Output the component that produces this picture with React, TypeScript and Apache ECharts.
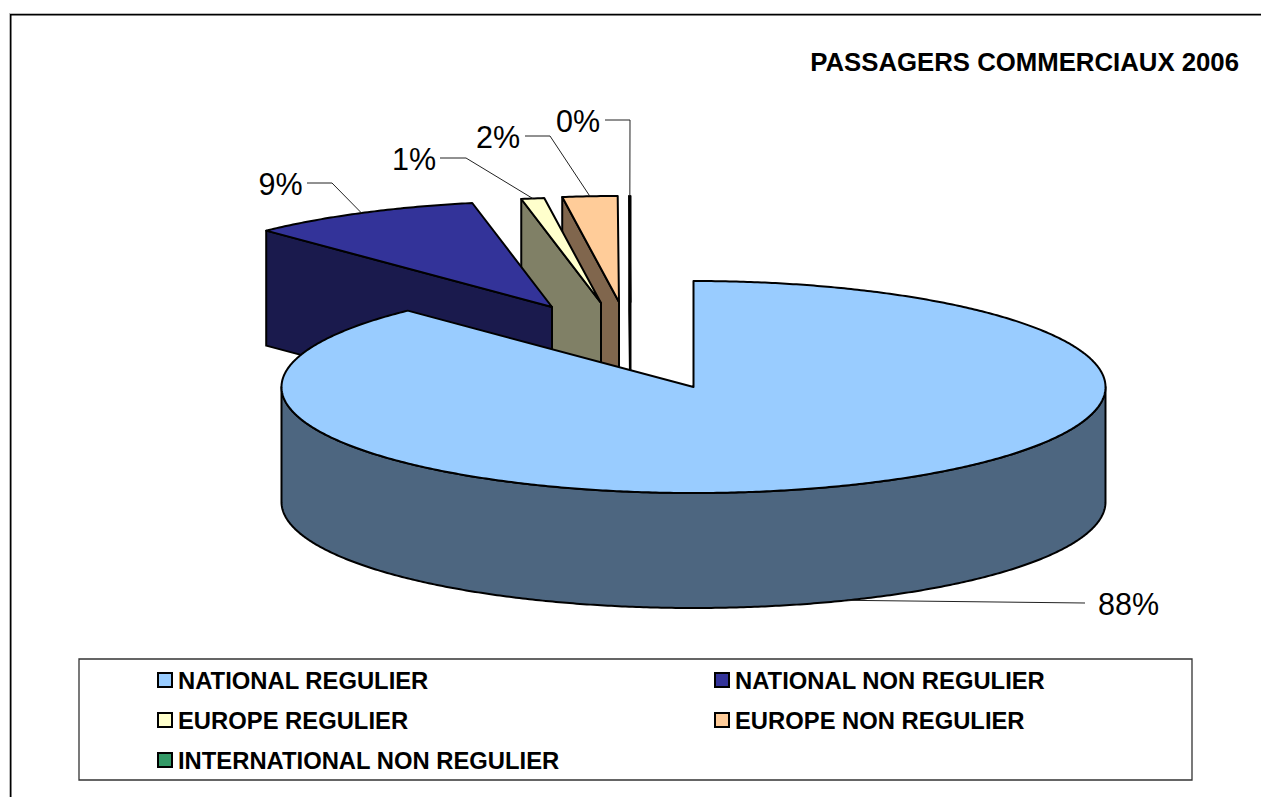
import React, { useEffect, useRef } from "react";
import * as echarts from "echarts";

const titleText = "PASSAGERS COMMERCIAUX 2006";
const categories = [
  "NATIONAL REGULIER",
  "NATIONAL NON REGULIER",
  "EUROPE REGULIER",
  "EUROPE NON REGULIER",
  "INTERNATIONAL NON REGULIER",
];
const sharePercent = [87.8, 9.1, 0.9, 2.15, 0.05];
const topColors = ["#99CCFF", "#333399", "#FFFFCC", "#FFCC99", "#339966"];
const sideColors = ["#4D6680", "#1A1A4D", "#808066", "#80664D", "#1A4D33"];

// layout of the exploded pie
const CX = 693.5, CY = 387, RX = 412, RY = 106, DEPTH = 115;
const explodeDX = [0, -141.5, -92.5, -74.5, -63];
const explodeDY = [0, -80, -84, -85, -85];
const labelX = [1128.5, 280.5, 414, 498, 578];
const labelY = [604, 184, 159, 137, 121];
const leaderY = [603, 183, 158, 136, 120];
const elbowX = [1085, 332, 466, 550, 630];
const elbowStartX = [1085, 307, 440, 525, 605];
const legendX = [157, 714, 157, 714, 157];
const legendY = [668, 668, 708, 708, 748];

const rad = (d: number) => (d * Math.PI) / 180;

function arcPoints(ax: number, ay: number, a0: number, a1: number, dy = 0) {
  const out: number[][] = [];
  const n = Math.max(2, Math.ceil(Math.abs(a1 - a0) * 2));
  for (let i = 0; i <= n; i++) {
    const a = rad(a0 + ((a1 - a0) * i) / n);
    out.push([ax + RX * Math.sin(a), ay - RY * Math.cos(a) + dy]);
  }
  return out;
}

function sliceAngles(i: number) {
  const total = sharePercent.reduce((s, v) => s + v, 0);
  const before = sharePercent.slice(0, i).reduce((s, v) => s + v, 0);
  return [(before / total) * 360, ((before + sharePercent[i]) / total) * 360];
}

function makeRenderItem(i: number) {
  return () => {
    const [a0, a1] = sliceAngles(i);
    const ax = CX + explodeDX[i];
    const ay = CY + explodeDY[i];
    const stroke = { stroke: "#000", lineWidth: 2, lineJoin: "round" };
    const children: any[] = [];
    const side = { fill: sideColors[i], ...stroke };
    const face = (a: number) => {
      const x = ax + RX * Math.sin(rad(a));
      const y = ay - RY * Math.cos(rad(a));
      children.push({
        type: "polygon",
        shape: { points: [[ax, ay], [x, y], [x, y + DEPTH], [ax, ay + DEPTH]] },
        style: side,
      });
    };
    if (Math.sin(rad(a0)) < -1e-6) face(a0);
    if (Math.sin(rad(a1)) > 1e-6) face(a1);
    const w0 = Math.max(a0, 90), w1 = Math.min(a1, 270);
    if (w1 > w0) {
      const t = arcPoints(ax, ay, w0, w1);
      const b = arcPoints(ax, ay, w1, w0, DEPTH);
      children.push({ type: "polygon", shape: { points: [...t, ...b] }, style: side });
    }
    children.push({
      type: "polygon",
      shape: { points: [[ax, ay], ...arcPoints(ax, ay, a0, a1)] },
      style: { fill: topColors[i], ...stroke },
    });
    // leader line and percentage label
    const mid = rad((a0 + a1) / 2);
    const inFront = Math.cos(mid) < 0;
    const px = ax + RX * Math.sin(mid);
    const py = ay - RY * Math.cos(mid) + (inFront ? DEPTH : 0);
    children.push({
      type: "polyline",
      shape: { points: [[elbowStartX[i], leaderY[i]], [elbowX[i], leaderY[i]], [px, py]] },
      style: { stroke: "#222", lineWidth: 1, fill: "none" },
    });
    children.push({
      type: "text",
      x: labelX[i],
      y: labelY[i],
      style: {
        text: Math.round(sharePercent[i]) + "%",
        fill: "#000",
        font: '30.5px "Liberation Sans", Arial, sans-serif',
        align: "center",
        verticalAlign: "middle",
      },
    });
    return { type: "group", children };
  };
}

export default function App() {
  const ref = useRef<HTMLDivElement>(null);
  useEffect(() => {
    const chart = echarts.init(ref.current!, null, { renderer: "svg" });
    const order = [4, 3, 2, 1, 0];
    chart.setOption({
      animation: false,
      backgroundColor: "#fff",
      title: {
        text: titleText,
        right: 22,
        top: 49,
        padding: 0,
        textStyle: {
          fontFamily: '"Liberation Sans", Arial, sans-serif',
          fontSize: 25.75,
          fontWeight: "bold",
          color: "#000",
        },
      },
      legend: categories.map((name, i) => ({
        data: [name],
        left: legendX[i],
        top: legendY[i],
        padding: 0,
        orient: "horizontal",
        selectedMode: false,
        icon: "rect",
        itemWidth: 14,
        itemHeight: 14,
        itemGap: 0,
        itemStyle: { color: topColors[i], borderColor: "#000", borderWidth: 2 },
        textStyle: {
          fontFamily: '"Liberation Sans", Arial, sans-serif',
          fontSize: 23.8,
          fontWeight: "bold",
          color: "#000",
          padding: [0, 0, 0, 1],
        },
      })),
      graphic: [
        {
          type: "line",
          z: -10,
          shape: { x1: 9, y1: 13.5, x2: 1261, y2: 13.5 },
          style: { stroke: "#bbb", lineWidth: 1 },
        },
        {
          type: "line",
          z: -10,
          shape: { x1: 9.5, y1: 13, x2: 9.5, y2: 797 },
          style: { stroke: "#bbb", lineWidth: 1 },
        },
        {
          type: "line",
          z: -9,
          shape: { x1: 10, y1: 14.75, x2: 1261, y2: 14.75 },
          style: { stroke: "#000", lineWidth: 1.5 },
        },
        {
          type: "line",
          z: -9,
          shape: { x1: 10.75, y1: 14, x2: 10.75, y2: 797 },
          style: { stroke: "#000", lineWidth: 1.5 },
        },
        {
          type: "rect",
          z: -9,
          shape: { x: 79, y: 659, width: 1113, height: 121 },
          style: { fill: "#fff", stroke: "#333", lineWidth: 1.3 },
        },
      ],
      series: order.map((i) => ({
        type: "custom",
        name: categories[i],
        coordinateSystem: "none",
        silent: true,
        itemStyle: { color: topColors[i] },
        data: [sharePercent[i]],
        renderItem: makeRenderItem(i),
      })),
    });
    return () => chart.dispose();
  }, []);
  return (
    <div
      ref={ref}
      style={{ position: "absolute", left: 0, top: 0, width: 1261, height: 797 }}
    />
  );
}
